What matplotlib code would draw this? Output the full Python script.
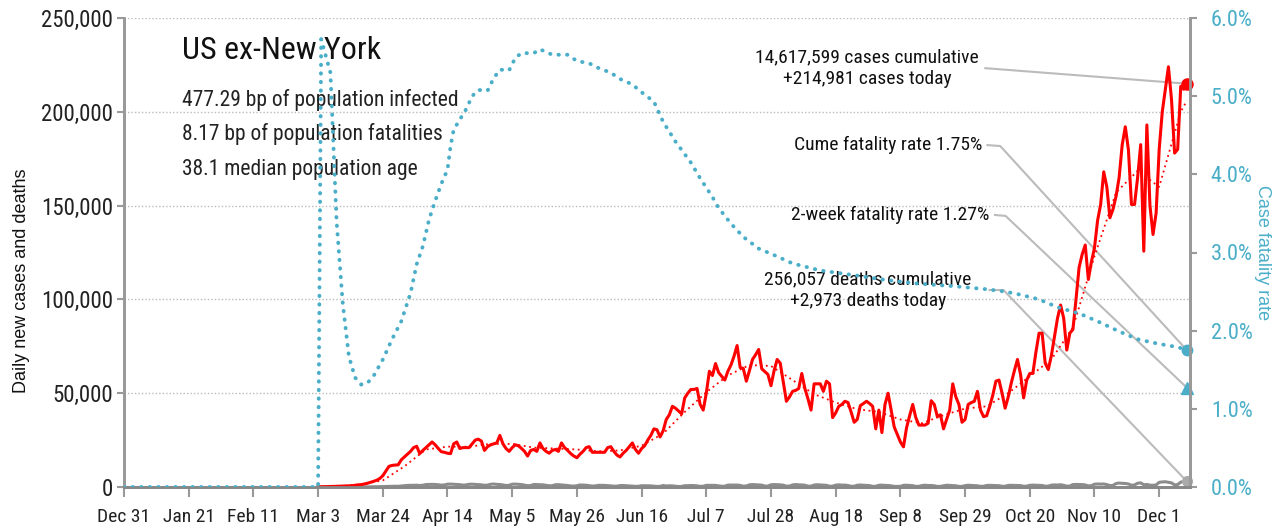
import numpy as np
import matplotlib.pyplot as plt
from matplotlib import font_manager as fm
from matplotlib.ticker import FuncFormatter

installed = {f.name for f in fm.fontManager.ttflist}
narrow_pick = [n for n in ['Roboto Condensed', 'Archivo Narrow', 'PT Sans Narrow',
                           'IBM Plex Sans Condensed'] if n in installed]
narrow = narrow_pick[:1] + ['DejaVu Sans']
plain = ['Liberation Sans', 'DejaVu Sans']

# x axis: days since Dec 31, 2019
tick_labels = ['Dec 31', 'Jan 21', 'Feb 11', 'Mar 3', 'Mar 24', 'Apr 14', 'May 5', 'May 26',
               'Jun 16', 'Jul 7', 'Jul 28', 'Aug 18', 'Sep 8', 'Sep 29', 'Oct 20', 'Nov 10', 'Dec 1']

# daily new cases (thousands), day 63 (Mar 3) .. day 345
start_day = 63
cases_k = [
    0.1, 0.1, 0.15, 0.2, 0.25, 0.3, 0.35,
    0.4, 0.45, 0.5, 0.6, 0.7, 0.9, 1.1,
    1.3, 1.6, 2.0, 2.5, 3.0, 3.6, 4.5,
    6.0, 8.5, 11.0, 11.5, 11.7, 11.8, 14.5,
    16.0, 17.5, 19.0, 21.0, 21.7, 17.8, 19.5,
    21.0, 22.5, 24.0, 22.5, 20.5, 18.8, 18.5,
    18.0, 17.8, 23.0, 24.0, 20.5, 21.0, 21.0,
    21.0, 23.0, 25.0, 25.5, 24.5, 19.5, 21.5,
    22.5, 23.0, 23.5, 27.5, 23.0, 20.5, 19.0,
    21.0, 22.5, 22.0, 20.6, 19.0, 16.5, 19.5,
    20.0, 19.0, 23.5, 20.5, 19.0, 18.0, 19.5,
    20.0, 19.0, 23.5, 21.0, 19.5, 17.8, 16.5,
    15.6, 17.5, 19.0, 21.0, 21.5, 18.5, 18.5,
    18.5, 18.5, 18.5, 21.0, 21.5, 19.0, 17.0,
    16.0, 18.0, 19.5, 21.5, 23.5, 20.0, 18.0,
    20.5, 22.0, 25.0, 27.5, 31.0, 30.5, 26.7,
    30.0, 36.0, 38.5, 43.0, 42.0, 40.5, 39.0,
    47.5, 50.0, 52.0, 52.0, 52.5, 44.0, 41.0,
    50.0, 61.7, 59.4, 65.8, 61.0, 59.0, 57.0,
    61.7, 65.0, 69.7, 75.4, 63.7, 63.2, 56.4,
    62.0, 68.0, 70.5, 73.3, 63.0, 61.5, 60.0,
    54.0, 62.0, 68.0, 66.0, 56.0, 45.7, 48.0,
    51.0, 51.5, 52.5, 60.5, 52.5, 47.0, 41.0,
    55.0, 55.0, 55.0, 51.0, 56.4, 55.0, 37.0,
    39.5, 43.0, 44.0, 45.7, 45.0, 40.0, 34.5,
    36.0, 43.4, 44.5, 45.7, 44.5, 43.0, 31.0,
    41.0, 29.0, 44.0, 50.0, 41.0, 32.0, 28.0,
    24.0, 21.4, 31.6, 38.0, 44.0, 37.0, 33.0,
    33.0, 33.0, 34.0, 46.0, 44.0, 37.5, 38.5,
    31.0, 36.0, 41.0, 55.0, 48.0, 44.0, 34.5,
    36.0, 44.0, 45.0, 45.7, 51.0, 41.0, 37.5,
    38.0, 43.0, 49.0, 56.4, 57.0, 50.0, 42.0,
    48.0, 55.5, 62.0, 68.0, 60.0, 47.5, 57.0,
    60.5, 60.6, 72.0, 82.0, 82.0, 66.0, 62.6,
    70.0, 80.0, 90.0, 97.0, 90.0, 73.0, 82.0,
    84.0, 100.0, 117.0, 124.0, 129.0, 110.6, 120.0,
    127.5, 142.0, 150.6, 168.0, 160.0, 143.5, 148.0,
    155.0, 165.0, 182.5, 192.0, 180.0, 150.6, 150.6,
    165.0, 182.5, 125.7, 193.0, 150.0, 134.6, 146.0,
    180.0, 200.0, 212.0, 224.0, 206.5, 178.0, 180.0,
    213.6, 212.0, 214.981,
]

# daily deaths, same days
deaths = [
    1, 2, 3, 4, 3, 2, 5,
    8, 10, 12, 15, 20, 18, 30,
    45, 60, 80, 90, 100, 90, 150,
    220, 280, 350, 400, 420, 380, 550,
    700, 850, 900, 1000, 950, 800, 950,
    1300, 1350, 1400, 1350, 1200, 1000, 1100,
    1500, 1550, 1450, 1400, 1250, 1000, 1100,
    1450, 1500, 1400, 1300, 1150, 900, 1000,
    1450, 1600, 1400, 1300, 1100, 800, 900,
    1500, 1550, 1400, 1300, 1000, 700, 800,
    1350, 1300, 1250, 1150, 900, 650, 700,
    1200, 1250, 1100, 1000, 800, 550, 500,
    650, 1100, 1000, 950, 700, 500, 600,
    900, 900, 850, 750, 600, 450, 450,
    750, 800, 700, 650, 500, 350, 400,
    700, 700, 650, 600, 450, 300, 350,
    800, 550, 650, 600, 400, 250, 300,
    700, 700, 800, 750, 600, 350, 400,
    900, 850, 900, 850, 650, 400, 450,
    1000, 1050, 1000, 1050, 850, 450, 550,
    1150, 1300, 1200, 1150, 1000, 500, 500,
    1200, 1300, 1250, 1150, 950, 450, 500,
    1100, 1300, 1150, 1100, 950, 450, 450,
    1050, 1200, 1100, 1050, 900, 400, 450,
    1000, 1150, 1000, 1000, 800, 400, 400,
    950, 1050, 950, 900, 750, 350, 400,
    900, 1000, 850, 800, 650, 300, 300,
    350, 900, 950, 850, 700, 350, 350,
    800, 950, 800, 800, 650, 300, 350,
    650, 950, 850, 800, 650, 300, 300,
    750, 950, 850, 750, 650, 350, 400,
    800, 900, 850, 850, 700, 400, 400,
    850, 900, 850, 850, 750, 400, 450,
    900, 1000, 950, 950, 800, 450, 450,
    1000, 1100, 1050, 1200, 900, 450, 550,
    1300, 1350, 1300, 1300, 1100, 600, 700,
    1500, 1600, 1550, 1600, 1300, 750, 850,
    1850, 2100, 1950, 1900, 1600, 950, 1100,
    2000, 2200, 1200, 1350, 1000, 900, 1100,
    2500, 2700, 2800, 2500, 2200, 1100, 1300,
    2600, 3000, 2973,
]

# 7-day average of cases (thousands), read weekly
trend_days = [63, 70, 77, 84, 91, 98, 105, 112, 119, 126, 133, 140, 147, 154, 161, 168, 175,
              182, 189, 196, 203, 210, 217, 224, 231, 238, 245, 252, 259, 266, 273, 280, 287,
              294, 301, 308, 315, 322, 329, 336, 343, 345]
trend_k = [0.1, 0.4, 1.5, 3.5, 11, 20, 21.5, 21.5, 23, 23, 21, 20.5, 20, 19, 19.5, 22, 28.5,
           40, 50.5, 59.5, 65, 64.5, 57, 49.5, 45, 41.5, 40, 36, 34, 38.3, 41.8, 43, 50,
           59, 68, 85, 123, 157, 168.5, 160, 200, 206]

# case fatality rate (%)
cfr_days = [0, 63, 64, 67, 69, 71, 73, 75, 77, 79, 81, 84, 87, 90, 93, 95, 97, 99, 101, 103,
            105, 106, 107, 109, 111, 113, 115, 118, 120, 122, 125, 127, 129, 133, 135, 139,
            144, 147, 151, 154, 158, 161, 165, 168, 172, 175, 179, 184, 187, 191, 193, 197,
            201, 206, 212, 217, 226, 237, 247, 258, 269, 280, 286, 291, 297, 303, 310, 316,
            323, 329, 336, 342, 345]
cfr_pct = [0, 0, 5.73, 5.3, 3.4, 2.35, 1.67, 1.4, 1.31, 1.33, 1.42, 1.63, 1.89, 2.12, 2.48,
           2.85, 3.08, 3.42, 3.66, 3.88, 4.06, 4.36, 4.57, 4.7, 4.83, 5.0, 5.08, 5.07, 5.23,
           5.34, 5.33, 5.49, 5.55, 5.55, 5.6, 5.53, 5.53, 5.45, 5.42, 5.36, 5.3, 5.22, 5.15,
           5.05, 4.93, 4.67, 4.42, 4.15, 3.95, 3.71, 3.57, 3.37, 3.2, 3.05, 2.95, 2.86, 2.77,
           2.71, 2.65, 2.6, 2.57, 2.53, 2.5, 2.46, 2.4, 2.3, 2.22, 2.12, 1.99, 1.89, 1.83,
           1.79, 1.75]

cume_cfr = 1.75
two_week_cfr = 1.27

info_lines = ['477.29 bp of population infected',
              '8.17 bp of population fatalities',
              '38.1 median population age']

red = '#ff0000'
blue = '#4aaec8'
gray = '#999999'

days = np.arange(start_day, start_day + len(cases_k))
cases = np.array(cases_k) * 1000
trend = np.array(trend_k) * 1000
last = days[-1]

fig = plt.figure(figsize=(12.82, 5.29), dpi=100)
ax = fig.add_axes([124 / 1282, 42 / 529, 1066 / 1282, 469 / 529])
ax2 = ax.twinx()

ax.plot(days, deaths, color='#8c8c8c', lw=2.2, zorder=3)
ax.plot(trend_days, trend, color=red, lw=1.3, ls=(0, (1, 2)), zorder=4)
ax.plot(days, cases, color=red, lw=2.2, zorder=5)
ax.plot(last, cases[-1], 'o', color=red, ms=8, clip_on=False, zorder=6)
ax.plot(last, deaths[-1], 'o', color='#aaaaaa', ms=7, clip_on=False, zorder=6)

ax2.plot(cfr_days, cfr_pct, color=blue, lw=2.8, ls=(0, (0.1, 2.1)),
         dash_capstyle='round', zorder=3)
ax2.plot(last, cume_cfr, 'o', color=blue, ms=7.5, clip_on=False)
ax2.plot(last, two_week_cfr, '^', color=blue, ms=9, clip_on=False)

ax.set_xlim(0, 346)
ax.set_ylim(0, 250000)
ax2.set_ylim(0, 6)

ax.set_xticks(np.arange(0, 337, 21))
ax.set_xticklabels(tick_labels, family=narrow, fontsize=14, color='#222222')
ax.set_yticks(np.arange(0, 250001, 50000))
ax.yaxis.set_major_formatter(FuncFormatter(lambda v, p: f'{v:,.0f}'))
for lab in ax.get_yticklabels():
    lab.set_family(narrow)
    lab.set_fontsize(16.5)
    lab.set_color('#222222')
ax2.set_yticks(np.arange(0, 6.01, 1))
ax2.yaxis.set_major_formatter(FuncFormatter(lambda v, p: f'{v:.1f}%'))
for lab in ax2.get_yticklabels():
    lab.set_family(narrow)
    lab.set_fontsize(16)
    lab.set_color(blue)

ax.grid(axis='y', color='#bbbbbb', ls=(0, (1, 1.5)), lw=1)
ax.tick_params(axis='x', length=7, width=1.5, color=gray, pad=8)
ax.tick_params(axis='y', length=5, width=1.5, color=gray, pad=3)
ax2.tick_params(axis='y', length=5, width=1.5, color=gray, pad=10)

for a in (ax, ax2):
    a.spines['top'].set_visible(False)
    a.spines['left'].set_color(gray)
    a.spines['right'].set_color(gray)
    a.spines['bottom'].set_color('#888888')
    a.spines['left'].set_linewidth(2)
    a.spines['right'].set_linewidth(2)
    a.spines['bottom'].set_linewidth(2)

ax.set_ylabel('Daily new cases and deaths', family=plain, fontsize=13, color='#111111')
ax.yaxis.set_label_coords(-0.088, 0.44)
ax2.set_ylabel('Case fatality rate', family=plain, fontsize=13, color=blue, rotation=-90,
               va='bottom')
ax2.yaxis.set_label_coords(1.06, 0.5)

# title block
ax.text(0.054, 0.93, 'US ex-New York', transform=ax.transAxes, family=narrow, fontsize=23,
        color='#111111', va='center')
for i, line in enumerate(info_lines):
    ax.text(0.054, 0.826 - i * 0.074, line, transform=ax.transAxes, family=narrow,
            fontsize=15.5, color='#222222', va='center')


# annotations with elbow connectors
def to_axes(a, x, y):
    return ax.transAxes.inverted().transform(a.transData.transform((x, y)))


conn = dict(color='#bbbbbb', lw=1.5, transform=ax.transAxes, clip_on=False, zorder=2)

ax.text(0.697, 0.893, '14,617,599 cases cumulative\n+214,981 cases today',
        transform=ax.transAxes, family=narrow, fontsize=14, color='#111111',
        ha='center', va='center', linespacing=1.3)
px, py = to_axes(ax, last, cases[-1])
ax.plot([0.808, px], [0.893, py], **conn)

ax.text(0.805, 0.729, f'Cume fatality rate {cume_cfr:.2f}%', transform=ax.transAxes,
        family=narrow, fontsize=14, color='#111111', ha='right', va='center')
px, py = to_axes(ax2, last, cume_cfr)
ax.plot([0.81, 0.822, px], [0.729, 0.727, py], **conn)

ax.text(0.812, 0.58, f'2-week fatality rate {two_week_cfr:.2f}%', transform=ax.transAxes,
        family=narrow, fontsize=14, color='#111111', ha='right', va='center')
px, py = to_axes(ax2, last, two_week_cfr)
ax.plot([0.817, 0.827, px], [0.58, 0.578, py], **conn)

ax.text(0.698, 0.42, '256,057 deaths cumulative\n+2,973 deaths today',
        transform=ax.transAxes, family=narrow, fontsize=14, color='#111111',
        ha='center', va='center', linespacing=1.3)
px, py = to_axes(ax, last, deaths[-1])
ax.plot([0.812, 0.825, px], [0.42, 0.42, py], **conn)

fig.savefig('out.png', dpi=100)
